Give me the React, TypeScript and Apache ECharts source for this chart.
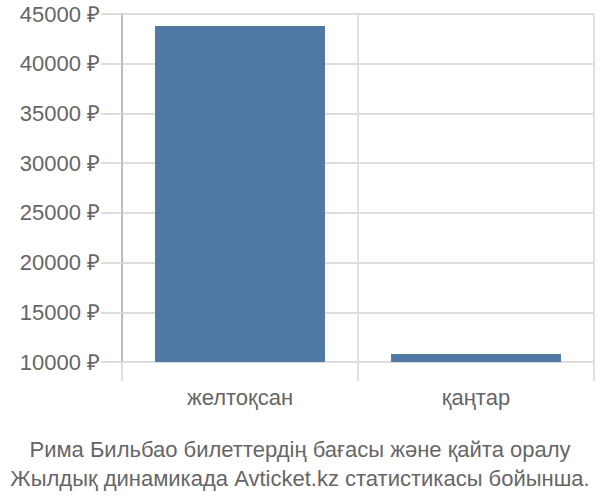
import { useEffect, useRef } from 'react'
import * as echarts from 'echarts'

const MONTHS = ['желтоқсан', 'қаңтар']
const PRICES = [43800, 10800]
const TITLE_LINES = [
  'Рима Бильбао билеттердің бағасы және қайта оралу',
  'Жылдық динамикада Avticket.kz статистикасы бойынша.',
]

const FONT = '"Liberation Sans", Arial, sans-serif'

export default function App() {
  const elRef = useRef<HTMLDivElement>(null)

  useEffect(() => {
    if (!elRef.current) return
    document.body.style.margin = '0'
    const chart = echarts.init(elRef.current, undefined, { renderer: 'svg' })
    chart.setOption({
      animation: false,
      backgroundColor: '#fff',
      title: {
        text: TITLE_LINES.join('\n'),
        left: 'center',
        top: 430,
        textStyle: { color: '#666', fontSize: 22, fontWeight: 'normal', fontFamily: FONT, lineHeight: 29 },
      },
      grid: { left: 122, right: 6, top: 14, bottom: 138 },
      xAxis: {
        type: 'category',
        data: MONTHS,
        axisLine: { show: false },
        axisTick: { show: true, length: 19, lineStyle: { color: '#e0e0e0', width: 2 } },
        splitLine: { show: true, lineStyle: { color: '#e0e0e0', width: 2 } },
        axisLabel: { color: '#666', fontSize: 22, fontFamily: FONT, margin: 24 },
      },
      yAxis: {
        type: 'value',
        min: 10000,
        max: 45000,
        interval: 5000,
        axisLine: { show: true, lineStyle: { color: '#bbb', width: 2 } },
        axisTick: { show: true, length: 21, lineStyle: { color: '#ddd', width: 2 } },
        splitLine: { show: true, lineStyle: { color: '#ddd', width: 2 } },
        axisLabel: {
          color: '#666',
          fontSize: 22,
          fontFamily: FONT,
          margin: 22,
          formatter: (v: number) => `${v} ₽`,
        },
      },
      series: [
        {
          type: 'bar',
          data: PRICES,
          barWidth: '72%',
          itemStyle: { color: '#4e79a7' },
        },
      ],
    })
    return () => chart.dispose()
  }, [])

  return <div ref={elRef} style={{ width: 600, height: 500 }} />
}
